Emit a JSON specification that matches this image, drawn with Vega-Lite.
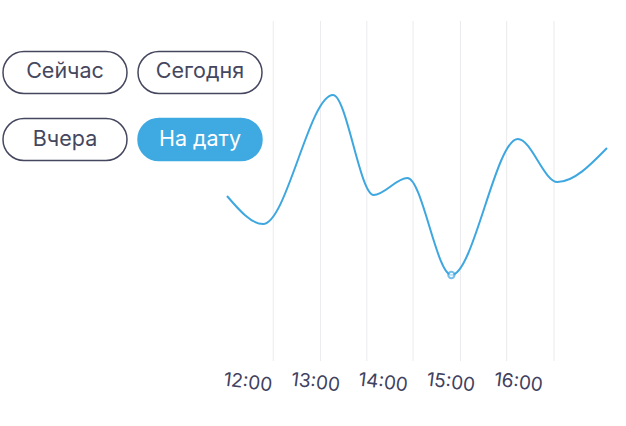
{
  "$schema": "https://vega.github.io/schema/vega-lite/v6.json",
  "background": "white",
  "padding": {"left": 0, "top": 20, "right": 0, "bottom": 0},
  "autosize": {"type": "pad"},
  "bounds": "flush",
  "spacing": 0,
  "config": {"view": {"stroke": null}, "font": "Inter"},
  "datasets": {
    "buttons": [
      {"label": "Сейчас", "row": "1", "col": "1", "state": "off"},
      {"label": "Сегодня", "row": "1", "col": "2", "state": "off"},
      {"label": "Вчера", "row": "2", "col": "1", "state": "off"},
      {"label": "На дату", "row": "2", "col": "2", "state": "on"}
    ],
    "series": [
      {"time": "2024-01-01T11:41:00", "value": 165},
      {"time": "2024-01-01T12:13:00", "value": 137},
      {"time": "2024-01-01T13:15:00", "value": 266},
      {"time": "2024-01-01T13:51:00", "value": 166},
      {"time": "2024-01-01T14:21:00", "value": 183},
      {"time": "2024-01-01T15:00:00", "value": 86},
      {"time": "2024-01-01T15:59:00", "value": 222},
      {"time": "2024-01-01T16:34:00", "value": 179},
      {"time": "2024-01-01T17:18:00", "value": 213}
    ],
    "grid": [
      {"time": "2024-01-01T12:22:00"},
      {"time": "2024-01-01T13:04:00"},
      {"time": "2024-01-01T13:45:00"},
      {"time": "2024-01-01T14:26:00"},
      {"time": "2024-01-01T15:08:00"},
      {"time": "2024-01-01T15:49:00"},
      {"time": "2024-01-01T16:31:00"}
    ]
  },
  "hconcat": [
    {
      "width": 227,
      "height": 170,
      "data": {"name": "buttons"},
      "encoding": {
        "x": {
          "field": "col",
          "type": "nominal",
          "axis": null,
          "scale": {"domain": ["1", "2"], "range": [3, 262], "paddingInner": 0.0815, "paddingOuter": 0}
        },
        "y": {
          "field": "row",
          "type": "nominal",
          "axis": null,
          "scale": {"domain": ["1", "2"], "paddingInner": 0.373, "paddingOuter": 0.455}
        }
      },
      "layer": [
        {
          "mark": {"type": "rect", "cornerRadius": 21, "strokeWidth": 1.5},
          "encoding": {
            "fill": {
              "field": "state",
              "type": "nominal",
              "legend": null,
              "scale": {"domain": ["off", "on"], "range": ["#ffffff", "#3fa9e1"]}
            },
            "stroke": {
              "field": "state",
              "type": "nominal",
              "legend": null,
              "scale": {"domain": ["off", "on"], "range": ["#45475f", "#3fa9e1"]}
            }
          }
        },
        {
          "mark": {"type": "text", "fontSize": 21.5, "align": "center", "baseline": "middle"},
          "encoding": {
            "text": {"field": "label"},
            "color": {
              "field": "state",
              "type": "nominal",
              "legend": null,
              "scale": {"domain": ["off", "on"], "range": ["#45475f", "#ffffff"]}
            }
          }
        }
      ]
    },
    {
      "width": 380,
      "height": 340,
      "encoding": {
        "x": {
          "field": "time",
          "type": "temporal",
          "title": null,
          "scale": {"nice": false, "domain": [
            {"year": 2024, "month": 1, "date": 1, "hours": 11, "minutes": 41},
            {"year": 2024, "month": 1, "date": 1, "hours": 17, "minutes": 18}
          ]},
          "axis": {
            "values": [
              {"year": 2024, "month": 1, "date": 1, "hours": 12},
              {"year": 2024, "month": 1, "date": 1, "hours": 13},
              {"year": 2024, "month": 1, "date": 1, "hours": 14},
              {"year": 2024, "month": 1, "date": 1, "hours": 15},
              {"year": 2024, "month": 1, "date": 1, "hours": 16}
            ],
            "format": "%H:%M",
            "grid": false,
            "ticks": false,
            "domain": false,
            "labelAngle": 7,
            "labelAlign": "center",
            "labelBaseline": "top",
            "labelPadding": 12,
            "labelFontSize": 19,
            "labelColor": "#3f4160"
          }
        }
      },
      "layer": [
        {
          "data": {"name": "grid"},
          "mark": {"type": "rule", "color": "#ebebee", "strokeWidth": 1},
          "encoding": {}
        },
        {
          "data": {"name": "series"},
          "mark": {"type": "line", "interpolate": "monotone", "color": "#3ea7e0", "strokeWidth": 2},
          "encoding": {
            "y": {"field": "value", "type": "quantitative", "axis": null, "scale": {"domain": [0, 340]}}
          }
        },
        {
          "data": {"name": "series"},
          "transform": [{"filter": {"field": "value", "equal": 86}}],
          "mark": {"type": "point", "shape": "circle", "size": 40, "filled": true, "fill": "white", "stroke": "#3ea7e0", "strokeWidth": 2},
          "encoding": {
            "y": {"field": "value", "type": "quantitative", "axis": null, "scale": {"domain": [0, 340]}}
          }
        }
      ]
    }
  ]
}
